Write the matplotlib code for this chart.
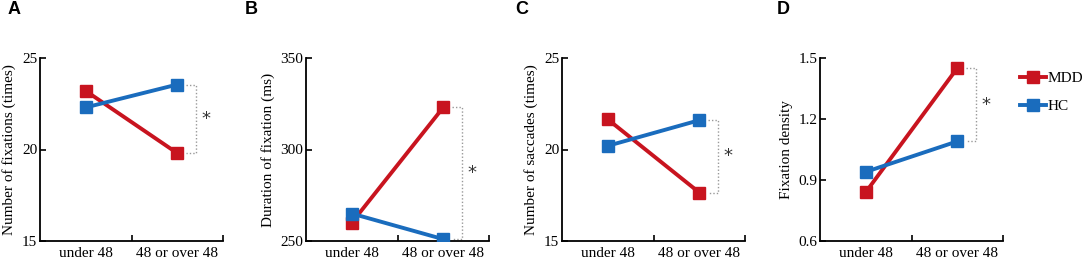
import matplotlib
matplotlib.use('Agg')
import matplotlib.pyplot as plt

groups = ['under 48', '48 or over 48']

# panel values: MDD, HC
fix_mdd = [23.2, 19.8]
fix_hc = [22.3, 23.55]
dur_mdd = [260, 323]
dur_hc = [265, 251]
sac_mdd = [21.65, 17.65]
sac_hc = [20.2, 21.6]
dens_mdd = [0.84, 1.45]
dens_hc = [0.94, 1.09]

ylabels = ['Number of fixations (times)', 'Duration of fixation (ms)',
           'Number of saccades (times)', 'Fixation density']
yticks = [[15, 20, 25], [250, 300, 350], [15, 20, 25], [0.6, 0.9, 1.2, 1.5]]
yticklabels = [['15', '20', '25'], ['250', '300', '350'], ['15', '20', '25'],
               ['0.6', '0.9', '1.2', '1.5']]
letters = ['A', 'B', 'C', 'D']

red = '#c8141f'
blue = '#1a6cbd'

plt.rcParams['font.family'] = ['Liberation Serif', 'DejaVu Serif']

fig = plt.figure(figsize=(10.84, 2.6), dpi=100)
W, H = 1084, 260
lefts = [40, 306, 562, 820]
letter_x = [8, 245, 515, 777]
data = [(fix_mdd, fix_hc), (dur_mdd, dur_hc), (sac_mdd, sac_hc), (dens_mdd, dens_hc)]

for i in range(4):
    ax = fig.add_axes([lefts[i] / W, (H - 241) / H, 183 / W, 183 / H])
    mdd, hc = data[i]
    xs = [0.5, 1.5]
    ax.plot(xs, mdd, '-s', color=red, lw=2.8, ms=8, mec=red, label='MDD', zorder=3)
    ax.plot(xs, hc, '-s', color=blue, lw=2.8, ms=8, mec=blue, label='HC', zorder=4)

    # significance bracket
    lo, hi = min(mdd[1], hc[1]), max(mdd[1], hc[1])
    ax.plot([1.6, 1.7, 1.7, 1.6], [hi, hi, lo, lo], color='#999999', lw=1,
            ls=(0, (1, 1.5)), zorder=2)
    ax.text(1.81, (lo + hi) / 2, '*', ha='center', va='center', fontsize=13,
            color='#333333', family='DejaVu Sans')

    ax.set_xlim(0, 2)
    ax.set_ylim(yticks[i][0], yticks[i][-1])
    ax.set_yticks(yticks[i])
    ax.set_yticklabels(yticklabels[i])
    ax.set_xticks([1, 2])
    ax.set_xticklabels([])
    for x, g in zip(xs, groups):
        ax.text(x, -0.035, g, transform=ax.get_xaxis_transform(), ha='center',
                va='top', fontsize=11)
    ax.tick_params(direction='in', length=4, width=1.2, labelsize=11, pad=2)
    ax.spines['top'].set_visible(False)
    ax.spines['right'].set_visible(False)
    for s in ['left', 'bottom']:
        ax.spines[s].set_linewidth(1.3)
    ax.set_ylabel(ylabels[i], fontsize=11, labelpad=4)
    ax.patch.set_alpha(0)

    fig.text(letter_x[i] / W, 1 - 10 / H, letters[i], fontsize=13, fontweight='bold',
             family='Liberation Sans', ha='left', va='center')

    if i == 3:
        ax.legend(loc='upper left', bbox_to_anchor=(1.06, 0.96), frameon=False,
                  fontsize=11, handlelength=1.7, handletextpad=0.1,
                  labelspacing=0.95, borderaxespad=0)

fig.savefig('out.png', dpi=100)
